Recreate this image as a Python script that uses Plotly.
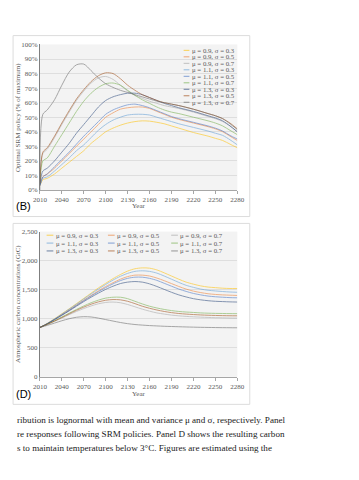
import plotly.graph_objects as go
from plotly.subplots import make_subplots

W, H = 359, 480

labels = ["μ = 0.9, σ = 0.3", "μ = 0.9, σ = 0.5", "μ = 0.9, σ = 0.7",
          "μ = 1.1, σ = 0.3", "μ = 1.1, σ = 0.5", "μ = 1.1, σ = 0.7",
          "μ = 1.3, σ = 0.3", "μ = 1.3, σ = 0.5", "μ = 1.3, σ = 0.7"]
colors = ["#FFC000", "#ED7D31", "#A5A5A5", "#5B9BD5", "#4472C4",
          "#70AD47", "#264478", "#9E480E", "#636363"]

# Panel B: optimal SRM policy (% of maximum)
years_b = [2010, 2014, 2020, 2030, 2040, 2050, 2060, 2070, 2080, 2090, 2100,
           2110, 2120, 2130, 2140, 2150, 2160, 2170, 2180, 2190, 2200,
           2220, 2240, 2250, 2260, 2270, 2280]
srm_09_03 = [3, 7, 8, 11, 15, 19, 23, 27, 32, 36, 40, 42.5, 44.5, 46, 47, 47.5, 47.3, 46.5, 45.5, 44, 42.5, 39.5, 37, 35.5, 34, 31.5, 29]
srm_09_05 = [3, 9, 11, 15, 20, 25, 30, 35, 40, 45, 50, 53, 55.5, 56.5, 57, 57, 56, 54, 52, 50, 48.5, 46, 43.5, 42, 40, 37, 34]
srm_09_07 = [5, 25, 28, 36, 45, 53.5, 61.5, 68, 73.5, 77, 78, 76, 72, 68, 65, 63, 61, 59.5, 58, 57, 56, 53.5, 50.5, 49, 47, 44, 40]
srm_11_03 = [3, 8, 9, 13, 17.5, 22, 27, 31, 36, 41, 45, 48, 50, 51.5, 52, 52, 51.5, 50, 48.5, 47, 45.5, 43, 40.5, 39, 37.5, 34.5, 31]
srm_11_05 = [3, 9, 11, 16, 21, 26, 31.5, 37, 42, 47, 52, 55, 57, 58.5, 59, 58, 56.5, 54.5, 52.5, 50.5, 49, 46.5, 44, 42.5, 40.5, 37.5, 35]
srm_11_07 = [5, 20, 22, 30, 38, 46, 54, 61, 66.5, 70.5, 73, 73.5, 72, 68.5, 65, 62, 59.5, 57, 55, 53.5, 52.5, 50, 47.5, 46, 44, 41, 38]
srm_13_03 = [4, 13, 15, 20, 26, 32, 39, 45, 51, 57, 61.5, 64, 65.5, 66.5, 66.5, 65.5, 63.5, 61.5, 59.5, 58, 56.5, 54, 51, 49.5, 47.5, 44, 40]
srm_13_05 = [5, 26, 29, 37, 46, 54.5, 62.5, 69, 74.5, 78.5, 80.5, 80, 76.5, 72, 68.5, 65.5, 63.5, 61.5, 60, 59, 58, 55.5, 52.5, 51, 49, 46, 42]
srm_13_07 = [0, 52, 55, 62, 72, 81, 86, 86.5, 82, 77, 73, 70.5, 68.5, 67, 65.5, 64, 62.5, 61, 60, 59, 58, 55.5, 52.5, 51, 49, 45.5, 41.5]
srm_series = [srm_09_03, srm_09_05, srm_09_07, srm_11_03, srm_11_05,
              srm_11_07, srm_13_03, srm_13_05, srm_13_07]

# Panel D: atmospheric carbon concentrations (GtC)
years_d = list(range(2010, 2281, 10))
co2_09_03 = [850, 920, 1000, 1085, 1170, 1260, 1350, 1440, 1530, 1610, 1690, 1760, 1820, 1860, 1875, 1870, 1840, 1790, 1735, 1680, 1630, 1595, 1565, 1545, 1535, 1525, 1520, 1520]
co2_09_05 = [850, 915, 990, 1070, 1150, 1235, 1320, 1400, 1480, 1555, 1620, 1680, 1725, 1750, 1750, 1735, 1700, 1655, 1605, 1555, 1510, 1475, 1450, 1430, 1418, 1410, 1405, 1400]
co2_09_07 = [850, 900, 955, 1012, 1070, 1125, 1175, 1220, 1257, 1280, 1287, 1275, 1245, 1205, 1165, 1130, 1100, 1080, 1062, 1050, 1040, 1033, 1027, 1022, 1018, 1015, 1012, 1010]
co2_11_03 = [850, 918, 995, 1080, 1165, 1250, 1340, 1425, 1510, 1590, 1665, 1730, 1780, 1815, 1825, 1815, 1785, 1735, 1680, 1625, 1575, 1540, 1510, 1490, 1478, 1468, 1460, 1455]
co2_11_05 = [850, 914, 988, 1065, 1145, 1228, 1310, 1390, 1465, 1535, 1600, 1655, 1695, 1715, 1715, 1695, 1660, 1610, 1560, 1510, 1470, 1435, 1410, 1390, 1378, 1370, 1363, 1360]
co2_11_07 = [850, 905, 965, 1030, 1095, 1160, 1220, 1275, 1320, 1355, 1370, 1370, 1345, 1300, 1255, 1215, 1185, 1160, 1140, 1125, 1115, 1108, 1100, 1095, 1092, 1090, 1088, 1087]
co2_13_03 = [850, 912, 983, 1058, 1135, 1215, 1295, 1370, 1440, 1505, 1560, 1605, 1630, 1640, 1630, 1600, 1555, 1505, 1455, 1410, 1375, 1345, 1325, 1310, 1300, 1295, 1290, 1287]
co2_13_05 = [850, 903, 960, 1020, 1083, 1145, 1200, 1250, 1290, 1318, 1330, 1325, 1300, 1260, 1215, 1180, 1150, 1125, 1105, 1090, 1080, 1072, 1065, 1060, 1056, 1053, 1051, 1050]
co2_13_07 = [850, 885, 925, 965, 1000, 1025, 1035, 1030, 1010, 985, 960, 935, 915, 900, 890, 882, 876, 870, 866, 862, 858, 855, 852, 850, 848, 846, 845, 844]
co2_series = [co2_09_03, co2_09_05, co2_09_07, co2_11_03, co2_11_05,
              co2_11_07, co2_13_03, co2_13_05, co2_13_07]

caption_lines = [
    "ribution is lognormal with mean and variance μ and σ, respectively. Panel",
    "re responses following SRM policies. Panel D shows the resulting carbon",
    "s to maintain temperatures below 3°C. Figures are estimated using the",
]


def px(x):
    return x / W


def py(y):
    return 1 - y / H


SERIF = "Liberation Serif, Times New Roman, serif"
SANS = "Liberation Sans, Arial, sans-serif"
TXT = "#595959"

fig = make_subplots(rows=2, cols=1)

for name, col, ys in zip(labels, colors, srm_series):
    fig.add_trace(go.Scatter(x=years_b, y=ys, mode="lines", name=name,
                             line=dict(color=col, width=0.9, shape="spline", smoothing=0.8),
                             opacity=0.6, showlegend=False), row=1, col=1)
for name, col, ys in zip(labels, colors, co2_series):
    fig.add_trace(go.Scatter(x=years_d, y=ys, mode="lines", name=name,
                             line=dict(color=col, width=0.9, shape="spline", smoothing=0.8),
                             opacity=0.6, showlegend=False), row=2, col=1)

xdom = [px(26), px(232)]
axis_x = dict(range=[2010, 2280], tick0=2010, dtick=30, showgrid=False,
              showline=True, linecolor="#a6a6a6", linewidth=1, ticks="outside",
              ticklen=3, tickcolor="#a6a6a6", tickfont=dict(family=SERIF, size=7, color=TXT),
              zeroline=False, domain=xdom, fixedrange=True)
fig.update_layout(
    xaxis=dict(axis_x, anchor="y"),
    xaxis2=dict(axis_x, anchor="y2"),
    yaxis=dict(range=[0, 100], dtick=10, ticksuffix="%", showgrid=True,
               gridcolor="#dedede", gridwidth=0.6, showline=True, linecolor="#7f7f7f",
               linewidth=1, ticks="", zeroline=False,
               tickfont=dict(family=SERIF, size=7, color=TXT),
               domain=[py(181), py(33)], anchor="x"),
    yaxis2=dict(range=[0, 2500], dtick=500, tickformat=",d", showgrid=True,
                gridcolor="#dedede", gridwidth=0.6, showline=True, linecolor="#7f7f7f",
                linewidth=1, ticks="", zeroline=False,
                tickfont=dict(family=SERIF, size=7, color=TXT),
                domain=[py(371), py(223.3)], anchor="x2"),
    width=W, height=H, margin=dict(l=0, r=0, t=0, b=0),
    paper_bgcolor="white", plot_bgcolor="#f3f3f3", showlegend=False,
)

shapes = []
annots = []
# card frames
for (top, bot) in [(24, 208), (215, 399)]:
    shapes.append(dict(type="rect", xref="paper", yref="paper",
                       x0=px(-2), x1=px(245), y0=py(bot), y1=py(top),
                       line=dict(color="#dcdcdc", width=1), fillcolor="rgba(0,0,0,0)",
                       layer="below"))

# legend B (single column, top right)
for i, (name, col) in enumerate(zip(labels, colors)):
    yy = 39 + i * 6.6
    shapes.append(dict(type="line", xref="paper", yref="paper",
                       x0=px(176), x1=px(182), y0=py(yy), y1=py(yy),
                       line=dict(color=col, width=1), opacity=0.65))
    annots.append(dict(x=px(182.5), y=py(yy), xref="paper", yref="paper",
                       text=name, showarrow=False, xanchor="left", yanchor="middle",
                       font=dict(family=SERIF, size=6.8, color=TXT)))

# legend D (3 x 3)
col_x = [33, 97, 163]
for i, (name, col) in enumerate(zip(labels, colors)):
    r, c = divmod(i, 3)
    yy = 227 + r * 8
    x0 = col_x[c]
    shapes.append(dict(type="line", xref="paper", yref="paper",
                       x0=px(x0), x1=px(x0 + 7), y0=py(yy), y1=py(yy),
                       line=dict(color=col, width=1), opacity=0.65))
    annots.append(dict(x=px(x0 + 7.5), y=py(yy), xref="paper", yref="paper",
                       text=name, showarrow=False, xanchor="left", yanchor="middle",
                       font=dict(family=SERIF, size=6.8, color=TXT)))

# axis titles
for (yy, ttl) in [(197, "Year"), (388, "Year")]:
    annots.append(dict(x=px(129), y=py(yy), xref="paper", yref="paper", text=ttl,
                       showarrow=False, xanchor="center", yanchor="middle",
                       font=dict(family=SERIF, size=7, color=TXT)))
annots.append(dict(x=px(3), y=py(107), xref="paper", yref="paper",
                   text="Optimal SRM policy (% of maximum)", textangle=-90,
                   showarrow=False, xanchor="center", yanchor="middle",
                   font=dict(family=SERIF, size=7, color=TXT)))
annots.append(dict(x=px(3), y=py(297), xref="paper", yref="paper",
                   text="Atmospheric carbon concentrations (GtC)", textangle=-90,
                   showarrow=False, xanchor="center", yanchor="middle",
                   font=dict(family=SERIF, size=7, color=TXT)))

# panel letters
for (yy, t) in [(197, "(B)"), (388, "(D)")]:
    annots.append(dict(x=px(-1), y=py(yy), xref="paper", yref="paper", text=t,
                       showarrow=False, xanchor="left", yanchor="middle",
                       font=dict(family=SANS, size=11, color="#000000")))

# caption
for i, line in enumerate(caption_lines):
    annots.append(dict(x=px(0), y=py(415 + i * 14), xref="paper", yref="paper",
                       text=line, showarrow=False, xanchor="left", yanchor="middle",
                       font=dict(family=SERIF, size=9.1, color="#1a1a1a")))

fig.update_layout(shapes=shapes, annotations=annots)
fig.write_html("out.html")
